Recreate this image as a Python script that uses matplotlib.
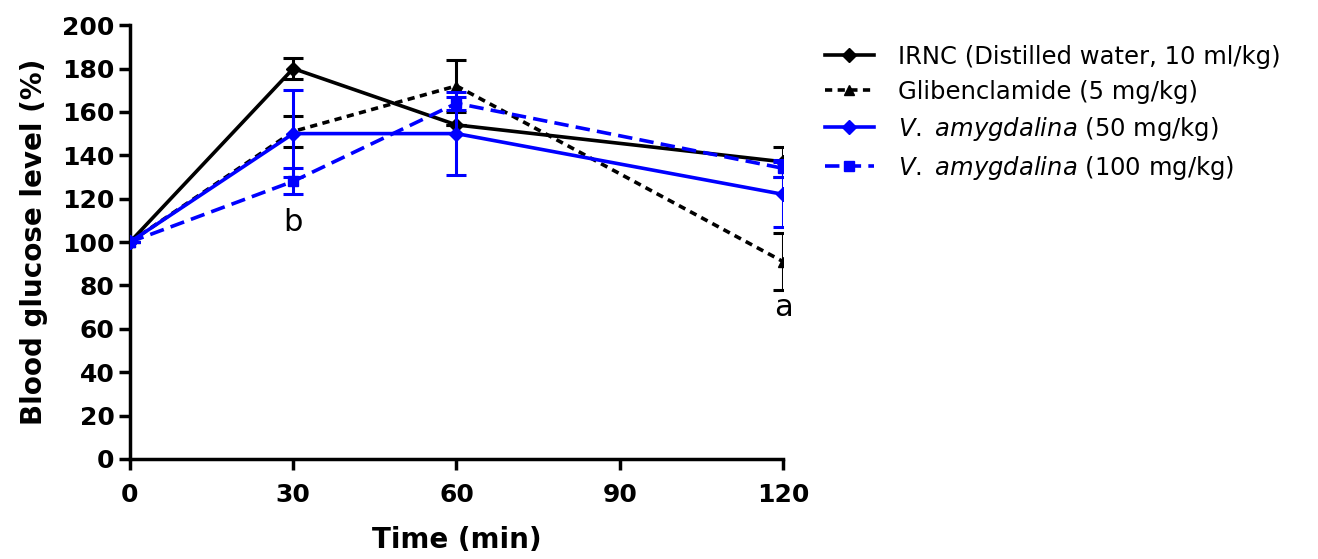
import matplotlib
matplotlib.use("Agg")
import matplotlib.pyplot as plt
from matplotlib.lines import Line2D

time_min = [0, 30, 60, 120]

irnc = [100, 180, 154, 137]
irnc_err = [0, 5, 0, 7]

glib = [100, 151, 172, 91]
glib_err = [0, 7, 12, 13]

va50 = [100, 150, 150, 122]
va50_err = [0, 20, 19, 15]

va100 = [100, 128, 164, 134]
va100_err = [0, 6, 3, 4]

labels = [
    "IRNC (Distilled water, 10 ml/kg)",
    "Glibenclamide (5 mg/kg)",
    r"$\it{V.}$ $\it{amygdalina}$ (50 mg/kg)",
    r"$\it{V.}$ $\it{amygdalina}$ (100 mg/kg)",
]

BLUE = "#0000ff"

plt.rcParams["font.family"] = "DejaVu Sans"
plt.rcParams["mathtext.fontset"] = "dejavusans"

fig = plt.figure(figsize=(13.18, 5.59), dpi=100)
ax = fig.add_axes([0.0986, 0.179, 0.4955, 0.776])

styles = [
    dict(color="black", marker="D", linestyle="-", zorder=3),
    dict(color="black", marker="^", linestyle=(0, (2, 1.5)), zorder=3),
    dict(color=BLUE, marker="D", linestyle="-", zorder=4),
    dict(color=BLUE, marker="s", linestyle=(0, (4, 2)), zorder=5),
]
series = [(irnc, irnc_err), (glib, glib_err), (va50, va50_err), (va100, va100_err)]

handles = []
for (vals, errs), st, lab in zip(series, styles, labels):
    ax.errorbar(time_min, vals, yerr=errs, capsize=7, elinewidth=2.2, capthick=2.2,
                linewidth=2.6, markersize=7, **st)
    handles.append(Line2D([], [], linewidth=2.6, markersize=7, label=lab,
                          **{k: v for k, v in st.items() if k != "zorder"}))

ax.text(30, 109, "b", fontsize=22, ha="center", va="center")
ax.text(120, 70, "a", fontsize=22, ha="center", va="center")

ax.set_xlim(0, 120)
ax.set_ylim(0, 200)
ax.set_xticks([0, 30, 60, 90, 120])
ax.set_yticks(range(0, 201, 20))
for side in ["top", "right"]:
    ax.spines[side].set_visible(False)
for side in ["left", "bottom"]:
    ax.spines[side].set_linewidth(2.5)
    ax.spines[side].set_clip_on(False)
ax.tick_params(direction="out", length=8, width=2.5, labelsize=18, pad=3)
ax.tick_params(axis="x", pad=9)
for lab in ax.get_xticklabels() + ax.get_yticklabels():
    lab.set_fontweight("bold")
ax.set_xlabel("Time (min)", fontsize=20, fontweight="bold", labelpad=14)
ax.set_ylabel("Blood glucose level (%)", fontsize=20, fontweight="bold", labelpad=10)

fig.legend(handles=handles, loc="upper left", bbox_to_anchor=(0.626, 0.92), frameon=False,
           fontsize=17.5, handlelength=2.0, handletextpad=1.0, labelspacing=0.45,
           borderpad=0, borderaxespad=0)

fig.savefig("out.png", dpi=100)
